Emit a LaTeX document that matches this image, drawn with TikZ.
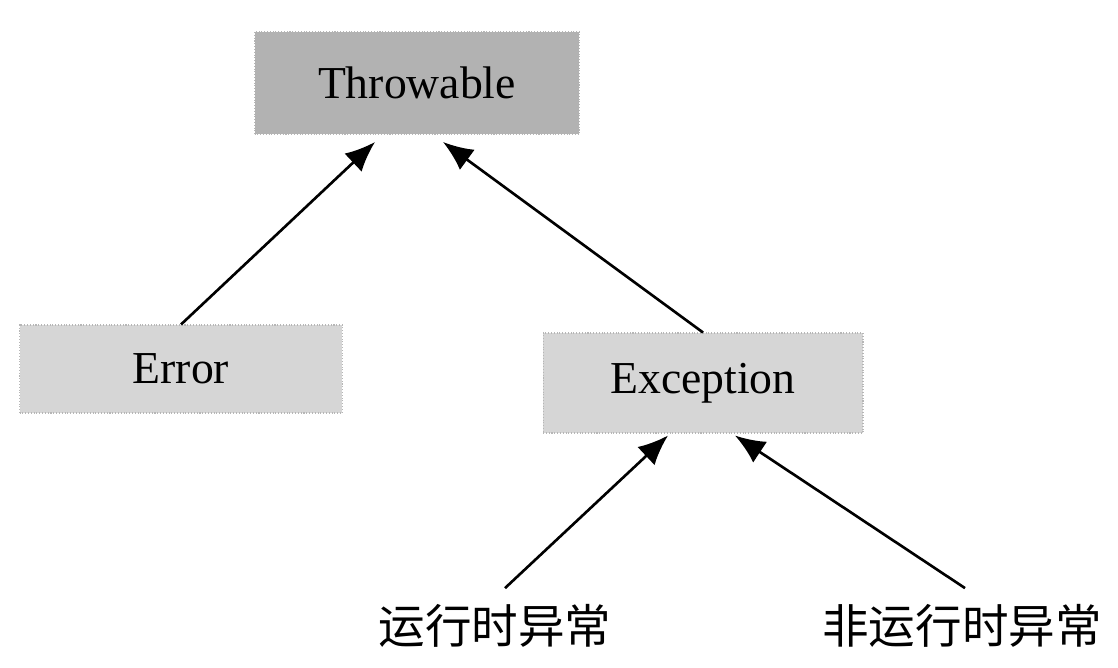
\documentclass[tikz,border=0pt]{standalone}
\usepackage{fontspec}
\setmainfont{Liberation Serif}
\newfontfamily\cjk{Noto Sans CJK SC}
\usetikzlibrary{arrows.meta}
\definecolor{boxdark}{RGB}{178,178,178}
\definecolor{boxlight}{RGB}{214,214,214}
\begin{document}
\begin{tikzpicture}[x=0.02cm, y=-0.02cm,
    classbox/.style={fill=boxlight, draw=boxlight!85!black, densely dotted, line width=0.6pt,
        font=\fontsize{26}{30}\selectfont, minimum width=6.4cm},
    kindtext/.style={font=\cjk\fontsize{26.5}{30}\selectfont, inner sep=0pt},
    inherit/.style={line width=1.5pt, -{Latex[length=0.6cm, width=0.5cm]}}]
        \useasboundingbox (0,0) rectangle (1118,668);

        \node[classbox, fill=boxdark, minimum width=6.5cm, minimum height=2.06cm] (Throwable) at (417,83) {Throwable};
        \node[classbox, minimum width=6.46cm, minimum height=1.76cm] (Error) at (181,369) {Error};
        \node[classbox, minimum height=2cm] (Exception) at (703,383) {Exception};
        \node[kindtext] (Runtime) at (495,626) {运行时异常};
        \node[kindtext] (Checked) at (962,626) {非运行时异常};

        \draw[inherit] (Error.north) -- ([xshift=-0.84cm, yshift=-0.14cm]Throwable.south);
        \draw[inherit] (Exception.north) -- ([xshift=0.52cm, yshift=-0.14cm]Throwable.south);
        \draw[inherit] ([xshift=0.2cm, yshift=0.32cm]Runtime.north) -- ([xshift=-0.7cm, yshift=-0.04cm]Exception.south);
        \draw[inherit] ([xshift=0.06cm, yshift=0.32cm]Checked.north) -- ([xshift=0.64cm, yshift=-0.04cm]Exception.south);
    \end{tikzpicture}
\end{document}
